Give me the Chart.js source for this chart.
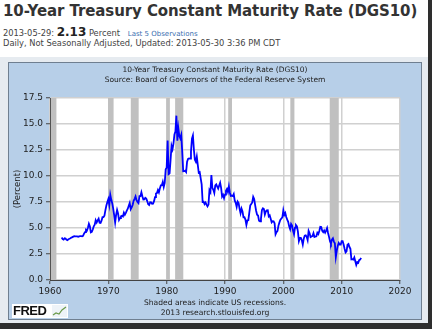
<!DOCTYPE html>
<html>
<head>
<meta charset="utf-8">
<script src="https://cdn.jsdelivr.net/npm/chart.js@4"></script>
<style>
  body { margin: 0; width: 432px; height: 329px; overflow: hidden; background: #fff; position: relative; font-family: "DejaVu Sans", Verdana, sans-serif; }
  .t { position: absolute; white-space: nowrap; }
  #title { left: 3px; top: 2px; font: bold 15px "DejaVu Sans"; color: #333; letter-spacing: -0.1px; }
  #line2 { left: 3px; top: 25px; font-size: 8.3px; color: #444; }
  #line2 b { font-size: 12px; color: #222; }
  #line2 a { font-size: 7px; color: #3b6fb0; text-decoration: none; margin-left: 5px; }
  #line3 { left: 3px; top: 38px; font-size: 8.3px; color: #444; }
  #outer { position: absolute; left: 0; top: 57px; width: 428px; height: 266px; background: #e6ebf0; }
  #panel { position: absolute; left: 8px; top: 62px; width: 412px; height: 256px; background: #b7cfe8; border: 1px solid #6f7f90; }
  #shadowR { position: absolute; left: 428px; top: 0; width: 4px; height: 329px; background: #2e2e2e; }
  #shadowB { position: absolute; left: 0; top: 323px; width: 432px; height: 6px; background: #2e2e2e; }
  #ptitle { left: 9px; width: 412px; top: 65px; text-align: center; font-size: 7.5px; color: #222; line-height: 9.5px; }
  #note { left: 9px; width: 412px; top: 298px; text-align: center; font-size: 7.6px; color: #222; line-height: 10px; }
  #fred { position: absolute; left: 12px; top: 304px; width: 56px; height: 14px; background: #fff; }
  #fred span { position: absolute; left: 1px; top: -1px; font: bold 13px "Liberation Sans"; color: #111; letter-spacing: -0.5px; }
  #chartBox { position: absolute; left: 9px; top: 63px; width: 412px; height: 256px; }
</style>
</head>
<body>
<div class="t" id="title">10-Year Treasury Constant Maturity Rate (DGS10)</div>
<div class="t" id="line2">2013-05-29: <b>2.13</b> Percent <a>Last 5 Observations</a></div>
<div class="t" id="line3">Daily, Not Seasonally Adjusted, Updated: 2013-05-30 3:36 PM CDT</div>
<div id="outer"></div>
<div id="panel"></div>
<div id="shadowR"></div>
<div id="shadowB"></div>
<div id="chartBox"><canvas id="c" width="412" height="256"></canvas></div>
<div class="t" id="ptitle">10-Year Treasury Constant Maturity Rate (DGS10)<br>Source: Board of Governors of the Federal Reserve System</div>
<div class="t" id="note">Shaded areas indicate US recessions.<br>2013 research.stlouisfed.org</div>
<div id="fred"><span>FRED</span>
  <svg style="position:absolute;left:40px;top:1px" width="15" height="12"><rect x="0" y="0" width="15" height="12" fill="#eef3f8"/><polyline points="1,10 4,8 7,9 10,5 14,2" fill="none" stroke="#6a9a4a" stroke-width="1.2"/></svg>
</div>

<script>
// 10-year rate, roughly every two months (Jan, Mar, May, Jul, Sep, Nov), from Jan 1962
const startYear = 1962;
const stepsPerYear = 6;
const rates = [
  4.08, 3.93, 3.89, 4.01, 3.98, 3.87,
  3.83, 3.93, 3.97, 4.02, 4.08, 4.12,
  4.17, 4.22, 4.20, 4.19, 4.19, 4.15,
  4.19, 4.21, 4.21, 4.20, 4.25, 4.45,
  4.61, 4.83, 4.76, 5.02, 5.40, 5.16,
  4.58, 4.63, 4.85, 5.16, 5.32, 5.75,
  5.53, 5.74, 5.90, 5.50, 5.48, 5.70,
  6.04, 6.05, 6.18, 6.72, 7.16, 7.51,
  7.79, 7.21, 8.20, 7.73, 7.39, 6.87,
  6.24, 5.53, 6.25, 6.73, 6.39, 5.78,
  5.95, 6.12, 6.17, 6.11, 6.48, 6.28,
  6.46, 6.68, 6.85, 7.13, 7.40, 6.81,
  6.99, 7.21, 7.61, 7.81, 8.04, 7.68,
  7.50, 7.39, 8.06, 8.06, 8.43, 8.05,
  7.74, 7.75, 7.90, 7.83, 7.59, 7.29,
  7.21, 7.48, 7.46, 7.33, 7.34, 7.58,
  7.96, 8.32, 8.36, 8.64, 8.42, 8.81,
  9.10, 9.12, 9.44, 8.95, 9.33, 10.65,
  10.80, 13.40, 10.18, 10.25, 11.51, 12.90,
  12.57, 13.12, 13.99, 14.28, 15.80, 13.39,
  14.59, 13.86, 13.62, 13.95, 12.34, 10.45,
  10.46, 10.51, 10.38, 11.38, 11.65, 11.69,
  11.67, 12.32, 13.60, 13.90, 12.52, 11.57,
  11.38, 11.86, 11.08, 10.31, 10.37, 9.78,
  9.19, 7.50, 7.52, 7.30, 7.45, 7.25,
  7.08, 7.25, 8.63, 8.45, 10.10, 8.86,
  8.67, 8.37, 9.09, 9.20, 8.98, 8.79,
  9.09, 9.36, 8.86, 8.02, 8.19, 7.87,
  8.21, 8.59, 8.76, 8.47, 9.00, 8.39,
  8.09, 8.11, 8.07, 8.27, 7.65, 7.42,
  7.03, 7.54, 7.39, 6.84, 6.42, 6.87,
  6.60, 6.03, 6.04, 5.81, 5.30, 5.72,
  5.75, 6.48, 7.18, 7.30, 7.46, 8.00,
  7.78, 7.20, 6.66, 6.28, 6.20, 5.70,
  5.65, 5.91, 6.73, 6.90, 6.83, 6.30,
  6.58, 6.69, 6.71, 6.12, 6.21, 5.88,
  5.54, 5.65, 5.64, 5.46, 4.40, 4.60,
  4.72, 5.23, 5.54, 5.79, 5.92, 6.03,
  6.70, 6.26, 6.44, 6.05, 5.80, 5.60,
  5.16, 4.89, 5.39, 5.24, 4.73, 4.40,
  5.04, 5.28, 5.16, 4.65, 3.75, 4.05,
  4.05, 3.81, 3.40, 3.98, 4.27, 4.30,
  4.15, 3.83, 4.72, 4.50, 4.13, 4.19,
  4.22, 4.50, 4.14, 4.18, 4.20, 4.54,
  4.42, 4.72, 5.11, 5.09, 4.72, 4.60,
  4.76, 4.56, 4.75, 5.00, 4.52, 4.15,
  3.74, 3.51, 3.88, 4.01, 3.69, 3.53,
  2.20, 2.82, 3.29, 3.56, 3.40, 3.40,
  3.73, 3.73, 3.42, 3.01, 2.65, 2.76,
  3.39, 3.46, 3.17, 3.00, 1.98, 2.01,
  1.97, 2.17, 1.80, 1.45, 1.72, 1.65,
  1.91, 1.96, 2.13
];

// NBER recessions, decimal years [start, end]
const recessionStart = [1960.15, 1969.95, 1973.85, 1979.95, 1981.45, 1990.55, 2001.2, 2007.95];
const recessionEnd   = [1961.1, 1970.9, 1975.2, 1980.55, 1982.85, 1991.2, 2001.9, 2009.5];

const yTicks = [0, 2.5, 5, 7.5, 10, 12.5, 15, 17.5];

const points = rates.map((r, i) => ({ x: startYear + i / stepsPerYear, y: r }));

const recessionShading = {
  id: "recessionShading",
  beforeDatasetsDraw(chart) {
    const { ctx, chartArea, scales } = chart;
    ctx.save();
    ctx.fillStyle = "#c0c0c0";
    for (let i = 0; i < recessionStart.length; i++) {
      const x1 = scales.x.getPixelForValue(recessionStart[i]);
      const x2 = scales.x.getPixelForValue(recessionEnd[i]);
      ctx.fillRect(x1, chartArea.top, x2 - x1, chartArea.bottom - chartArea.top);
    }
    ctx.restore();
  }
};

const plotBg = {
  id: "plotBg",
  beforeDraw(chart) {
    const { ctx, chartArea } = chart;
    ctx.save();
    ctx.fillStyle = "#ffffff";
    ctx.fillRect(chartArea.left, chartArea.top, chartArea.right - chartArea.left, chartArea.bottom - chartArea.top);
    ctx.restore();
  }
};

new Chart(document.getElementById("c"), {
  type: "line",
  data: {
    datasets: [{
      data: points,
      borderColor: "#0000ff",
      borderWidth: 1.8,
      pointRadius: 0,
      tension: 0,
      fill: false
    }]
  },
  options: {
    responsive: false,
    animation: false,
    layout: { padding: { top: 35, right: 21, left: 0, bottom: 0 } },
    plugins: { legend: { display: false }, tooltip: { enabled: false } },
    scales: {
      x: {
        type: "linear",
        min: 1960,
        max: 2020,
        afterFit: s => { s.height = 39; },
        ticks: { stepSize: 10, color: "#222", font: { family: "DejaVu Sans", size: 9 }, padding: 2, maxRotation: 0,
                 callback: v => String(v) },
        grid: { color: "#d0d0d0", lineWidth: 1.5, tickLength: 4, tickColor: "#444", tickWidth: 1 },
        border: { color: "#444", width: 1 }
      },
      y: {
        min: 0,
        max: 17.5,
        afterBuildTicks: s => { s.ticks = yTicks.map(v => ({ value: v })); },
        afterFit: s => { s.width = 41; },
        title: { display: true, text: "(Percent)", color: "#222", font: { family: "DejaVu Sans", size: 8.5 }, padding: { top: 4, bottom: 0 } },
        ticks: { color: "#222", font: { family: "DejaVu Sans", size: 9 }, padding: 3, callback: v => v.toFixed(1) },
        grid: { color: "#d0d0d0", lineWidth: 1.5, tickLength: 4, tickColor: "#444", tickWidth: 1 },
        border: { color: "#444", width: 1 }
      }
    }
  },
  plugins: [plotBg, recessionShading]
});
</script>
</body>
</html>
